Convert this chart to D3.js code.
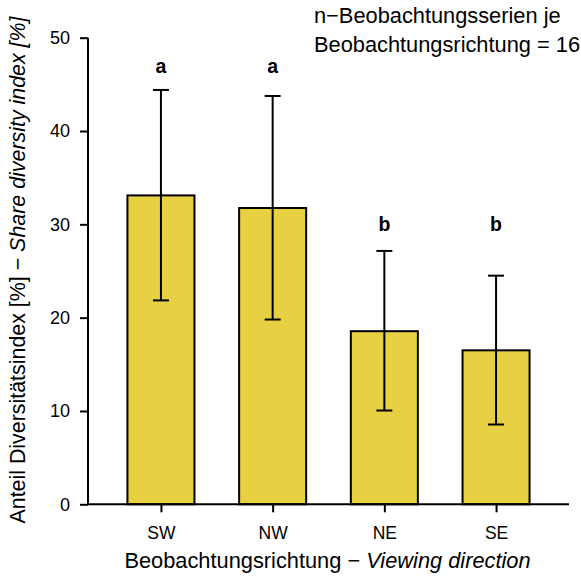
<!DOCTYPE html>
<html><head><meta charset="utf-8">
<script src="https://cdn.jsdelivr.net/npm/d3@7"></script>
<style>
html,body{margin:0;padding:0;background:#fff;}
text{font-family:"Liberation Sans",Arial,Helvetica,sans-serif;fill:#000;}
</style></head>
<body>
<svg id="chart" width="581" height="577"></svg>
<script>
const categories = ["SW", "NW", "NE", "SE"];
const means = [33.1, 31.75, 18.55, 16.5];
const errUpper = [44.4, 43.75, 27.15, 24.5];
const errLower = [21.85, 19.8, 10.05, 8.55];
const groupLetters = ["a", "a", "b", "b"];
const letterLevel = [47.0, 47.0, 30.0, 30.0];
const yTicks = [0, 10, 20, 30, 40, 50];

const svg = d3.select("#chart");
const y = d3.scaleLinear().domain([0, 50]).range([504.3, 37.7]);
const x = d3.scalePoint().domain(categories).range([88, 569]).padding(0.653);
const step = x.step();
const barW = step * 0.6;

// bars
svg.append("g").selectAll("rect").data(categories).join("rect")
  .attr("x", (d) => x(d) - barW / 2)
  .attr("y", (d, i) => y(means[i]))
  .attr("width", barW)
  .attr("height", (d, i) => y(0) - y(means[i]))
  .attr("fill", "#e8d043")
  .attr("stroke", "#000")
  .attr("stroke-width", 2);

// error bars
const eg = svg.append("g").attr("stroke", "#000").attr("stroke-width", 2);
categories.forEach((c, i) => {
  eg.append("line").attr("x1", x(c)).attr("x2", x(c)).attr("y1", y(errUpper[i])).attr("y2", y(errLower[i]));
  eg.append("line").attr("x1", x(c) - 8).attr("x2", x(c) + 8).attr("y1", y(errUpper[i])).attr("y2", y(errUpper[i]));
  eg.append("line").attr("x1", x(c) - 8).attr("x2", x(c) + 8).attr("y1", y(errLower[i])).attr("y2", y(errLower[i]));
});

// letters
svg.append("g").selectAll("text").data(categories).join("text")
  .attr("x", (d) => x(d))
  .attr("y", (d, i) => y(letterLevel[i]))
  .attr("text-anchor", "middle")
  .attr("dominant-baseline", "central")
  .attr("font-weight", "bold")
  .attr("font-size", 19.5)
  .text((d, i) => groupLetters[i]);

// y axis
const yAxis = svg.append("g").attr("transform", "translate(88,0)")
  .call(d3.axisLeft(y).tickValues(yTicks).tickSize(8).tickPadding(10).tickFormat(d3.format("d")));
yAxis.select(".domain").attr("d", `M0,${y(50)}V${y(0)}`).attr("stroke-width", 2);
yAxis.selectAll(".tick line").attr("stroke-width", 2);
yAxis.selectAll(".tick text").attr("font-size", 18).attr("fill", "#000").attr("font-family", null);

// x axis
const xAxis = svg.append("g").attr("transform", `translate(0,${y(0)})`)
  .call(d3.axisBottom(x).tickSize(8).tickPadding(14));
xAxis.select(".domain").attr("d", "M88,0H569").attr("stroke-width", 2);
xAxis.selectAll(".tick line").attr("stroke-width", 2);
xAxis.selectAll(".tick text").attr("font-size", 17.5).attr("fill", "#000").attr("font-family", null);

// axis titles
const xt = svg.append("text").attr("x", 327.5).attr("y", 568).attr("text-anchor", "middle").attr("font-size", 21.8);
xt.append("tspan").text("Beobachtungsrichtung \u2212 ");
xt.append("tspan").attr("font-style", "italic").text("Viewing direction");

const yt = svg.append("text").attr("transform", "translate(25,270) rotate(-90)").attr("text-anchor", "middle").attr("font-size", 21.4);
yt.append("tspan").text("Anteil Diversit\u00e4tsindex [%] \u2212 ");
yt.append("tspan").attr("font-style", "italic").text("Share diversity index [%]");

// note
const note = svg.append("text").attr("x", 314).attr("font-size", 21.8);
note.append("tspan").attr("x", 314).attr("y", 22.5).text("n\u2212Beobachtungsserien je");
note.append("tspan").attr("x", 314).attr("y", 51.5).text("Beobachtungsrichtung = 16");
</script>
</body></html>
